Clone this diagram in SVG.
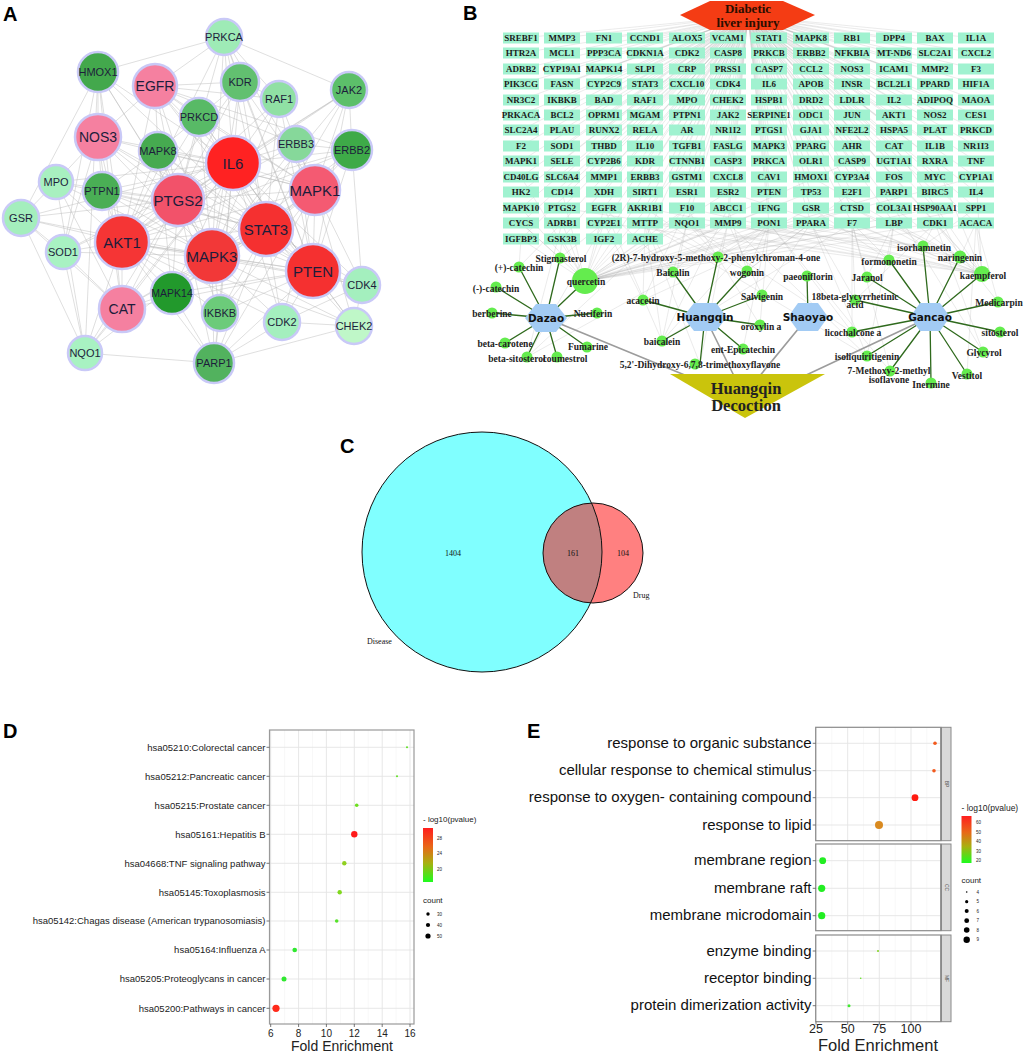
<svg xmlns="http://www.w3.org/2000/svg" width="1024" height="1054" viewBox="0 0 1024 1054">
<style>
.pl{font-family:"Liberation Sans",Arial,sans-serif;font-weight:bold;font-size:20px;fill:#000}
.ae{fill:none;stroke:#b8b8b8;stroke-width:.6;stroke-opacity:.75}
.an{stroke:#c9c9f7;stroke-width:2.5}
.at{font-family:"Liberation Sans",Arial,sans-serif;fill:#1d1d3b;text-anchor:middle}
.t15{font-size:15px}.t14{font-size:14px}.t11{font-size:11px}.t10{font-size:10.5px}
.gb{fill:#a0f2d0}
.gt{font-family:"Liberation Serif",serif;font-weight:bold;font-size:9px;fill:#1a1a1a;text-anchor:middle}
.gl{fill:none;stroke:#b0b0b0;stroke-width:.5;stroke-opacity:.5}
.ge{fill:none;stroke:#2f6a1d;stroke-width:1.3}
.hd{fill:none;stroke:#9c9c9c;stroke-width:1.6}
.hx{fill:#a2cbf4}
.ht{font-family:"DejaVu Sans",sans-serif;font-weight:bold;font-size:10.5px;fill:#111;text-anchor:middle}
.cn{fill:#64ec4e}
.cl{font-family:"Liberation Serif",serif;font-weight:bold;font-size:9.5px;fill:#222;text-anchor:middle}
.vt{font-family:"Liberation Serif",serif;font-size:8px;fill:#111}
.dl{font-family:"Liberation Sans",Arial,sans-serif;font-size:9.5px;fill:#222;text-anchor:end}
.el{font-family:"Liberation Sans",Arial,sans-serif;font-size:15px;fill:#111;text-anchor:end}
.gmj{stroke:#e4e4e4;stroke-width:.9;fill:none}
.gmn{stroke:#f1f1f1;stroke-width:.5;fill:none}
.tk{stroke:#555;stroke-width:.8;fill:none}
.lg{font-family:"Liberation Sans",Arial,sans-serif;fill:#222}
</style>
<defs>
<linearGradient id="gD" x1="0" y1="0" x2="0" y2="1">
<stop offset="0" stop-color="#ff1e1e"/><stop offset=".35" stop-color="#e86818"/><stop offset=".65" stop-color="#a8b010"/><stop offset="1" stop-color="#1efc1e"/>
</linearGradient>
<clipPath id="cSmall"><circle cx="593" cy="553" r="50"/></clipPath>
</defs>
<rect width="1024" height="1054" fill="#fff"/>

<!-- ============ Panel A ============ -->
<text class="pl" x="3" y="21">A</text>
<g id="a-edges">
<path class="ae" d="M233 163L224 37M233 163L98 72M233 163L155 86M233 163L240 82M233 163L279 99M233 163L349 90M233 163L199 117M233 163L98 137M233 163L158 151M233 163L296 144M233 163L352 150M233 163L56 182M233 163L102 191M233 163L178 200M233 163L315 190M233 163L21 218M233 163L122 242M233 163L63 252M233 163L266 229M233 163L212 256M233 163L313 271M233 163L362 285M233 163L172 293M233 163L122 309M233 163L220 313M233 163L282 322M233 163L354 326M233 163L85 353M233 163L214 363"/>
<path class="ae" d="M122 242L224 37M122 242L98 72M122 242L155 86M122 242L240 82M122 242L279 99M122 242L349 90M122 242L199 117M122 242L98 137M122 242L158 151M122 242L296 144M122 242L352 150M122 242L56 182M122 242L102 191M122 242L178 200M122 242L315 190M122 242L21 218M122 242L63 252M122 242L266 229M122 242L212 256M122 242L313 271M122 242L362 285M122 242L172 293M122 242L122 309M122 242L220 313M122 242L282 322M122 242L354 326M122 242L85 353M122 242L214 363"/>
<path class="ae" d="M212 256L224 37M212 256L98 72M212 256L155 86M212 256L240 82M212 256L279 99M212 256L349 90M212 256L199 117M212 256L98 137M212 256L158 151M212 256L296 144M212 256L352 150M212 256L56 182M212 256L102 191M212 256L178 200M212 256L315 190M212 256L21 218M212 256L63 252M212 256L266 229M212 256L313 271M212 256L362 285M212 256L172 293M212 256L122 309M212 256L220 313M212 256L282 322M212 256L354 326M212 256L85 353M212 256L214 363"/>
<path class="ae" d="M266 229L224 37M266 229L98 72M266 229L155 86M266 229L240 82M266 229L279 99M266 229L349 90M266 229L199 117M266 229L98 137M266 229L158 151M266 229L296 144M266 229L352 150M266 229L102 191M266 229L178 200M266 229L315 190M266 229L313 271M266 229L362 285M266 229L172 293M266 229L122 309M266 229L220 313M266 229L282 322M266 229L354 326M266 229L214 363M266 229L56 182"/>
<path class="ae" d="M313 271L224 37M313 271L155 86M313 271L240 82M313 271L279 99M313 271L349 90M313 271L199 117M313 271L98 137M313 271L158 151M313 271L296 144M313 271L352 150M313 271L102 191M313 271L178 200M313 271L315 190M313 271L362 285M313 271L172 293M313 271L220 313M313 271L282 322M313 271L354 326M313 271L214 363M313 271L122 309"/>
<path class="ae" d="M178 200L98 72M178 200L155 86M178 200L240 82M178 200L199 117M178 200L98 137M178 200L158 151M178 200L56 182M178 200L102 191M178 200L315 190M178 200L21 218M178 200L63 252M178 200L172 293M178 200L122 309M178 200L220 313M178 200L85 353M178 200L214 363M178 200L352 150M178 200L349 90M178 200L224 37"/>
<path class="ae" d="M315 190L224 37M315 190L155 86M315 190L240 82M315 190L279 99M315 190L349 90M315 190L199 117M315 190L158 151M315 190L296 144M315 190L352 150M315 190L172 293M315 190L220 313M315 190L282 322M315 190L354 326M315 190L362 285M315 190L214 363M315 190L98 137"/>
<path class="ae" d="M155 86L224 37M155 86L240 82M155 86L296 144M155 86L352 150M155 86L199 117M155 86L98 137M155 86L158 151M155 86L279 99M98 137L98 72M98 137L122 309M98 137L63 252M98 137L56 182M98 72L63 252M98 72L122 309M98 72L85 353M98 72L21 218M98 72L224 37M122 309L63 252M122 309L21 218M122 309L85 353M122 309L56 182M21 218L85 353M21 218L63 252M21 218L56 182M63 252L85 353M85 353L214 363M214 363L354 326M214 363L282 322M354 326L362 285M354 326L282 322M362 285L282 322M362 285L352 150M349 90L352 150M349 90L224 37M296 144L352 150M240 82L224 37M279 99L240 82M279 99L224 37M172 293L122 309M172 293L214 363M172 293L158 151M220 313L214 363M56 182L85 353M199 117L240 82M199 117L158 151M102 191L98 137M102 191L158 151"/>
</g>
<g id="a-PRKCA"><circle class="an" cx="224" cy="37" r="18" fill="#9eebb6"/><text class="at t11" x="224" y="41">PRKCA</text></g>
<g id="a-HMOX1"><circle class="an" cx="98" cy="72" r="20" fill="#43a84c"/><text class="at t11" x="98" y="76">HMOX1</text></g>
<g id="a-EGFR"><circle class="an" cx="155" cy="86" r="22" fill="#f580a0"/><text class="at t14" x="155" y="91">EGFR</text></g>
<g id="a-KDR"><circle class="an" cx="240" cy="82" r="19" fill="#62c070"/><text class="at t11" x="240" y="86">KDR</text></g>
<g id="a-RAF1"><circle class="an" cx="279" cy="99" r="18" fill="#90e0a4"/><text class="at t11" x="279" y="103">RAF1</text></g>
<g id="a-JAK2"><circle class="an" cx="349" cy="90" r="18" fill="#5cbf6a"/><text class="at t11" x="349" y="94">JAK2</text></g>
<g id="a-PRKCD"><circle class="an" cx="199" cy="117" r="19" fill="#58ba66"/><text class="at t11" x="199" y="121">PRKCD</text></g>
<g id="a-NOS3"><circle class="an" cx="98" cy="137" r="23" fill="#f580a0"/><text class="at t14" x="98" y="142">NOS3</text></g>
<g id="a-MAPK8"><circle class="an" cx="158" cy="151" r="19" fill="#46aa50"/><text class="at t11" x="158" y="155">MAPK8</text></g>
<g id="a-ERBB3"><circle class="an" cx="296" cy="144" r="18" fill="#86d89a"/><text class="at t11" x="296" y="148">ERBB3</text></g>
<g id="a-ERBB2"><circle class="an" cx="352" cy="150" r="20" fill="#3eaa48"/><text class="at t11" x="352" y="154">ERBB2</text></g>
<g id="a-IL6"><circle class="an" cx="233" cy="163" r="27" fill="#ff2222"/><text class="at t15" x="233" y="168.5">IL6</text></g>
<g id="a-MPO"><circle class="an" cx="56" cy="182" r="17" fill="#a8f0c0"/><text class="at t11" x="56" y="186">MPO</text></g>
<g id="a-PTPN1"><circle class="an" cx="102" cy="191" r="19" fill="#4aae55"/><text class="at t11" x="102" y="195">PTPN1</text></g>
<g id="a-PTGS2"><circle class="an" cx="178" cy="200" r="26" fill="#f2526a"/><text class="at t15" x="178" y="205.5">PTGS2</text></g>
<g id="a-MAPK1"><circle class="an" cx="315" cy="190" r="25" fill="#f45a72"/><text class="at t15" x="315" y="195.5">MAPK1</text></g>
<g id="a-GSR"><circle class="an" cx="21" cy="218" r="18" fill="#a4eebd"/><text class="at t11" x="21" y="222">GSR</text></g>
<g id="a-AKT1"><circle class="an" cx="122" cy="242" r="27" fill="#f53535"/><text class="at t15" x="122" y="247.5">AKT1</text></g>
<g id="a-SOD1"><circle class="an" cx="63" cy="252" r="17" fill="#a8f2c2"/><text class="at t11" x="63" y="256">SOD1</text></g>
<g id="a-STAT3"><circle class="an" cx="266" cy="229" r="27" fill="#f53030"/><text class="at t15" x="266" y="234.5">STAT3</text></g>
<g id="a-MAPK3"><circle class="an" cx="212" cy="256" r="27" fill="#f23838"/><text class="at t15" x="212" y="261.5">MAPK3</text></g>
<g id="a-PTEN"><circle class="an" cx="313" cy="271" r="27" fill="#f53030"/><text class="at t15" x="313" y="276.5">PTEN</text></g>
<g id="a-CDK4"><circle class="an" cx="362" cy="285" r="18" fill="#a4efbe"/><text class="at t11" x="362" y="289">CDK4</text></g>
<g id="a-MAPK14"><circle class="an" cx="172" cy="293" r="21" fill="#22992c"/><text class="at t10" x="172" y="297">MAPK14</text></g>
<g id="a-CAT"><circle class="an" cx="122" cy="309" r="23" fill="#f580a0"/><text class="at t14" x="122" y="314">CAT</text></g>
<g id="a-IKBKB"><circle class="an" cx="220" cy="313" r="18" fill="#6ccb7a"/><text class="at t11" x="220" y="317">IKBKB</text></g>
<g id="a-CDK2"><circle class="an" cx="282" cy="322" r="18" fill="#a4efbe"/><text class="at t11" x="282" y="326">CDK2</text></g>
<g id="a-CHEK2"><circle class="an" cx="354" cy="326" r="18" fill="#bff7c8"/><text class="at t11" x="354" y="330">CHEK2</text></g>
<g id="a-NQO1"><circle class="an" cx="85" cy="353" r="17" fill="#a8f2c2"/><text class="at t11" x="85" y="357">NQO1</text></g>
<g id="a-PARP1"><circle class="an" cx="214" cy="363" r="20" fill="#52b25e"/><text class="at t11" x="214" y="367">PARP1</text></g>

<!-- ============ Panel B ============ -->
<text class="pl" x="463" y="20">B</text>
<g id="b-connectors">
<path class="gl" d="M521 38L748 16M562 38L748 16M604 38L748 16M645 38L748 16M687 38L748 16M728 38L748 16M769 38L748 16M811 38L748 16M852 38L748 16M894 38L748 16M935 38L748 16M976 38L748 16"/>
<path class="gl" d="M521 53L748 16M562 53L748 16M604 53L748 16M645 53L748 16M687 53L748 16M728 53L748 16M769 53L748 16M811 53L748 16M852 53L748 16M894 53L748 16M935 53L748 16M976 53L748 16"/>
<path class="gl" d="M521 69L748 16M562 69L748 16M604 69L748 16M645 69L748 16M687 69L748 16M728 69L748 16M769 69L748 16M811 69L748 16M852 69L748 16M894 69L748 16M935 69L748 16M976 69L748 16"/>
<path class="gl" d="M521 84L748 16M562 84L748 16M604 84L748 16M645 84L748 16M687 84L748 16M728 84L748 16M769 84L748 16M811 84L748 16M852 84L748 16M894 84L748 16M935 84L748 16M976 84L748 16"/>
<path class="gl" d="M521 100L748 16M562 100L748 16M604 100L748 16M645 100L748 16M687 100L748 16M728 100L748 16M769 100L748 16M811 100L748 16M852 100L748 16M894 100L748 16M935 100L748 16M976 100L748 16"/>
<path class="gl" d="M521 115L748 16M562 115L748 16M604 115L748 16M645 115L748 16M687 115L748 16M728 115L748 16M769 115L748 16M811 115L748 16M852 115L748 16M894 115L748 16M935 115L748 16M976 115L748 16"/>
<path class="gl" d="M521 130L748 16M562 130L748 16M604 130L748 16M645 130L748 16M687 130L748 16M728 130L748 16M769 130L748 16M811 130L748 16M852 130L748 16M894 130L748 16M935 130L748 16M976 130L748 16"/>
<path class="gl" d="M521 146L748 16M562 146L748 16M604 146L748 16M645 146L748 16M687 146L748 16M728 146L748 16M769 146L748 16M811 146L748 16M852 146L748 16M894 146L748 16M935 146L748 16M976 146L748 16"/>
<path class="gl" d="M521 161L748 16M562 161L748 16M604 161L748 16M645 161L748 16M687 161L748 16M728 161L748 16M769 161L748 16M811 161L748 16M852 161L748 16M894 161L748 16M935 161L748 16M976 161L748 16"/>
<path class="gl" d="M521 177L748 16M562 177L748 16M604 177L748 16M645 177L748 16M687 177L748 16M728 177L748 16M769 177L748 16M811 177L748 16M852 177L748 16M894 177L748 16M935 177L748 16M976 177L748 16"/>
<path class="gl" d="M521 192L748 16M562 192L748 16M604 192L748 16M645 192L748 16M687 192L748 16M728 192L748 16M769 192L748 16M811 192L748 16M852 192L748 16M894 192L748 16M935 192L748 16M976 192L748 16"/>
<path class="gl" d="M521 208L748 16M562 208L748 16M604 208L748 16M645 208L748 16M687 208L748 16M728 208L748 16M769 208L748 16M811 208L748 16M852 208L748 16M894 208L748 16M935 208L748 16M976 208L748 16"/>
<path class="gl" d="M521 223L748 16M562 223L748 16M604 223L748 16M645 223L748 16M687 223L748 16M728 223L748 16M769 223L748 16M811 223L748 16M852 223L748 16M894 223L748 16M935 223L748 16M976 223L748 16"/>
<path class="gl" d="M521 239L748 16M562 239L748 16M604 239L748 16M645 239L748 16"/>
<path class="gl" d="M585 281L521 239M585 281L562 239M585 281L604 239M585 281L645 239M585 281L521 223M585 281L562 223M585 281L604 223M585 281L645 223M585 281L687 223M585 281L728 223M585 281L769 223M585 281L811 223M585 281L852 223M585 281L894 223M585 281L935 223M585 281L976 223M585 281L521 208M585 281L604 208M585 281L687 208M585 281L769 208M585 281L852 208M585 281L935 208M585 281L976 208M585 281L562 192M585 281L645 192M585 281L728 192M585 281L811 192M585 281L894 192M585 281L976 177M585 281L852 161M585 281L521 177M585 281L687 161"/>
<path class="gl" d="M982 274L976 223M982 274L935 223M982 274L894 208M982 274L852 223M982 274L811 208M982 274L769 223M982 274L728 192M982 274L687 208M982 274L976 177M982 274L935 161M982 274L894 146M982 274L852 130M982 274L811 177M982 274L645 208M982 274L604 223M982 274L562 208"/>
<path class="gl" d="M960 257L976 223M960 257L935 208M960 257L894 223M960 257L852 208M960 257L811 223M960 257L728 223M923 246L935 223M923 246L894 223M923 246L852 208M923 246L769 223M923 246L687 223M923 246L976 208M889 260L894 223M889 260L852 223M889 260L811 208M889 260L728 223M889 260L645 223M718 257L728 223M718 257L769 223M718 257L687 223M718 257L645 208M718 257L811 208M747 271L769 223M747 271L728 208M747 271L811 223M747 271L852 192M747 271L687 223M747 271L645 223M673 272L687 223M673 272L645 223M673 272L604 208M673 272L728 223M560 258L562 239M560 258L604 223M560 258L521 223M519 267L521 239M519 267L562 223M662 341L687 223M662 341L645 223M662 341L769 223M662 341L604 208M662 341L728 208M662 341L852 223M643 300L645 223M643 300L604 223M643 300L687 208M643 300L811 223M527 357L562 223M527 357L604 223M527 357L687 208M527 357L769 223M867 277L852 223M867 277L894 223M855 300L811 223M855 300L852 223M855 300L935 223M852 332L769 223M852 332L852 223M852 332L687 223M867 356L811 223M867 356L894 223M867 356L728 223M867 356L645 223M998 302L976 223M998 302L935 223M890 371L852 223M890 371L769 223M983 352L935 223M983 352L894 208M967 374L976 223M760 325L769 223M760 325L687 208M762 295L811 223M762 295L728 223M700 364L728 223M700 364L645 223M743 349L769 223"/>
<path class="hd" d="M546 318L692 378M705 317L737 382M808 317L758 378M930 317L802 377"/>
<path class="ge" d="M546 318L560 258M546 318L519 267M546 318L496 287M546 318L585 281M546 318L492 313M546 318L597 313M546 318L505 343M546 318L587 347M546 318L527 357M546 318L557 357"/>
<path class="ge" d="M705 317L673 272M705 317L718 257M705 317L747 271M705 317L643 300M705 317L762 295M705 317L760 325M705 317L662 341M705 317L743 349M705 317L700 364"/>
<path class="ge" d="M808 317L807 276"/>
<path class="ge" d="M930 317L923 246M930 317L889 260M930 317L960 257M930 317L982 274M930 317L867 277M930 317L998 302M930 317L855 300M930 317L1000 332M930 317L852 332M930 317L983 352M930 317L867 356M930 317L890 371M930 317L967 374M930 317L931 383"/>
</g>

<g id="b-targets">
<g id="t-row0"><rect class="gb" x="503" y="32.5" width="36" height="11"/><rect class="gb" x="544" y="32.5" width="36" height="11"/><rect class="gb" x="586" y="32.5" width="36" height="11"/><rect class="gb" x="627" y="32.5" width="36" height="11"/><rect class="gb" x="669" y="32.5" width="36" height="11"/><rect class="gb" x="710" y="32.5" width="36" height="11"/><rect class="gb" x="751" y="32.5" width="36" height="11"/><rect class="gb" x="793" y="32.5" width="36" height="11"/><rect class="gb" x="834" y="32.5" width="36" height="11"/><rect class="gb" x="876" y="32.5" width="36" height="11"/><rect class="gb" x="917" y="32.5" width="36" height="11"/><rect class="gb" x="958" y="32.5" width="36" height="11"/>
<text class="gt" y="41.2"><tspan x="521">SREBF1</tspan><tspan x="562">MMP3</tspan><tspan x="604">FN1</tspan><tspan x="645">CCND1</tspan><tspan x="687">ALOX5</tspan><tspan x="728">VCAM1</tspan><tspan x="769">STAT1</tspan><tspan x="811">MAPK8</tspan><tspan x="852">RB1</tspan><tspan x="894">DPP4</tspan><tspan x="935">BAX</tspan><tspan x="976">IL1A</tspan></text></g>
<g id="t-row1"><rect class="gb" x="503" y="47.5" width="36" height="11"/><rect class="gb" x="544" y="47.5" width="36" height="11"/><rect class="gb" x="586" y="47.5" width="36" height="11"/><rect class="gb" x="627" y="47.5" width="36" height="11"/><rect class="gb" x="669" y="47.5" width="36" height="11"/><rect class="gb" x="710" y="47.5" width="36" height="11"/><rect class="gb" x="751" y="47.5" width="36" height="11"/><rect class="gb" x="793" y="47.5" width="36" height="11"/><rect class="gb" x="834" y="47.5" width="36" height="11"/><rect class="gb" x="876" y="47.5" width="36" height="11"/><rect class="gb" x="917" y="47.5" width="36" height="11"/><rect class="gb" x="958" y="47.5" width="36" height="11"/>
<text class="gt" y="56.2"><tspan x="521">HTR2A</tspan><tspan x="562">MCL1</tspan><tspan x="604">PPP3CA</tspan><tspan x="645">CDKN1A</tspan><tspan x="687">CDK2</tspan><tspan x="728">CASP8</tspan><tspan x="769">PRKCB</tspan><tspan x="811">ERBB2</tspan><tspan x="852">NFKBIA</tspan><tspan x="894">MT-ND6</tspan><tspan x="935">SLC2A1</tspan><tspan x="976">CXCL2</tspan></text></g>
<g id="t-row2"><rect class="gb" x="503" y="63.5" width="36" height="11"/><rect class="gb" x="544" y="63.5" width="36" height="11"/><rect class="gb" x="586" y="63.5" width="36" height="11"/><rect class="gb" x="627" y="63.5" width="36" height="11"/><rect class="gb" x="669" y="63.5" width="36" height="11"/><rect class="gb" x="710" y="63.5" width="36" height="11"/><rect class="gb" x="751" y="63.5" width="36" height="11"/><rect class="gb" x="793" y="63.5" width="36" height="11"/><rect class="gb" x="834" y="63.5" width="36" height="11"/><rect class="gb" x="876" y="63.5" width="36" height="11"/><rect class="gb" x="917" y="63.5" width="36" height="11"/><rect class="gb" x="958" y="63.5" width="36" height="11"/>
<text class="gt" y="72.2"><tspan x="521">ADRB2</tspan><tspan x="562">CYP19A1</tspan><tspan x="604">MAPK14</tspan><tspan x="645">SLPI</tspan><tspan x="687">CRP</tspan><tspan x="728">PRSS1</tspan><tspan x="769">CASP7</tspan><tspan x="811">CCL2</tspan><tspan x="852">NOS3</tspan><tspan x="894">ICAM1</tspan><tspan x="935">MMP2</tspan><tspan x="976">F3</tspan></text></g>
<g id="t-row3"><rect class="gb" x="503" y="78.5" width="36" height="11"/><rect class="gb" x="544" y="78.5" width="36" height="11"/><rect class="gb" x="586" y="78.5" width="36" height="11"/><rect class="gb" x="627" y="78.5" width="36" height="11"/><rect class="gb" x="669" y="78.5" width="36" height="11"/><rect class="gb" x="710" y="78.5" width="36" height="11"/><rect class="gb" x="751" y="78.5" width="36" height="11"/><rect class="gb" x="793" y="78.5" width="36" height="11"/><rect class="gb" x="834" y="78.5" width="36" height="11"/><rect class="gb" x="876" y="78.5" width="36" height="11"/><rect class="gb" x="917" y="78.5" width="36" height="11"/><rect class="gb" x="958" y="78.5" width="36" height="11"/>
<text class="gt" y="87.2"><tspan x="521">PIK3CG</tspan><tspan x="562">FASN</tspan><tspan x="604">CYP2C9</tspan><tspan x="645">STAT3</tspan><tspan x="687">CXCL10</tspan><tspan x="728">CDK4</tspan><tspan x="769">IL6</tspan><tspan x="811">APOB</tspan><tspan x="852">INSR</tspan><tspan x="894">BCL2L1</tspan><tspan x="935">PPARD</tspan><tspan x="976">HIF1A</tspan></text></g>
<g id="t-row4"><rect class="gb" x="503" y="94.5" width="36" height="11"/><rect class="gb" x="544" y="94.5" width="36" height="11"/><rect class="gb" x="586" y="94.5" width="36" height="11"/><rect class="gb" x="627" y="94.5" width="36" height="11"/><rect class="gb" x="669" y="94.5" width="36" height="11"/><rect class="gb" x="710" y="94.5" width="36" height="11"/><rect class="gb" x="751" y="94.5" width="36" height="11"/><rect class="gb" x="793" y="94.5" width="36" height="11"/><rect class="gb" x="834" y="94.5" width="36" height="11"/><rect class="gb" x="876" y="94.5" width="36" height="11"/><rect class="gb" x="917" y="94.5" width="36" height="11"/><rect class="gb" x="958" y="94.5" width="36" height="11"/>
<text class="gt" y="103.2"><tspan x="521">NR3C2</tspan><tspan x="562">IKBKB</tspan><tspan x="604">BAD</tspan><tspan x="645">RAF1</tspan><tspan x="687">MPO</tspan><tspan x="728">CHEK2</tspan><tspan x="769">HSPB1</tspan><tspan x="811">DRD2</tspan><tspan x="852">LDLR</tspan><tspan x="894">IL2</tspan><tspan x="935">ADIPOQ</tspan><tspan x="976">MAOA</tspan></text></g>
<g id="t-row5"><rect class="gb" x="503" y="109.5" width="36" height="11"/><rect class="gb" x="544" y="109.5" width="36" height="11"/><rect class="gb" x="586" y="109.5" width="36" height="11"/><rect class="gb" x="627" y="109.5" width="36" height="11"/><rect class="gb" x="669" y="109.5" width="36" height="11"/><rect class="gb" x="710" y="109.5" width="36" height="11"/><rect class="gb" x="751" y="109.5" width="36" height="11"/><rect class="gb" x="793" y="109.5" width="36" height="11"/><rect class="gb" x="834" y="109.5" width="36" height="11"/><rect class="gb" x="876" y="109.5" width="36" height="11"/><rect class="gb" x="917" y="109.5" width="36" height="11"/><rect class="gb" x="958" y="109.5" width="36" height="11"/>
<text class="gt" y="118.2"><tspan x="521">PRKACA</tspan><tspan x="562">BCL2</tspan><tspan x="604">OPRM1</tspan><tspan x="645">MGAM</tspan><tspan x="687">PTPN1</tspan><tspan x="728">JAK2</tspan><tspan x="769">SERPINE1</tspan><tspan x="811">ODC1</tspan><tspan x="852">JUN</tspan><tspan x="894">AKT1</tspan><tspan x="935">NOS2</tspan><tspan x="976">CES1</tspan></text></g>
<g id="t-row6"><rect class="gb" x="503" y="124.5" width="36" height="11"/><rect class="gb" x="544" y="124.5" width="36" height="11"/><rect class="gb" x="586" y="124.5" width="36" height="11"/><rect class="gb" x="627" y="124.5" width="36" height="11"/><rect class="gb" x="669" y="124.5" width="36" height="11"/><rect class="gb" x="710" y="124.5" width="36" height="11"/><rect class="gb" x="751" y="124.5" width="36" height="11"/><rect class="gb" x="793" y="124.5" width="36" height="11"/><rect class="gb" x="834" y="124.5" width="36" height="11"/><rect class="gb" x="876" y="124.5" width="36" height="11"/><rect class="gb" x="917" y="124.5" width="36" height="11"/><rect class="gb" x="958" y="124.5" width="36" height="11"/>
<text class="gt" y="133.2"><tspan x="521">SLC2A4</tspan><tspan x="562">PLAU</tspan><tspan x="604">RUNX2</tspan><tspan x="645">RELA</tspan><tspan x="687">AR</tspan><tspan x="728">NR1I2</tspan><tspan x="769">PTGS1</tspan><tspan x="811">GJA1</tspan><tspan x="852">NFE2L2</tspan><tspan x="894">HSPA5</tspan><tspan x="935">PLAT</tspan><tspan x="976">PRKCD</tspan></text></g>
<g id="t-row7"><rect class="gb" x="503" y="140.5" width="36" height="11"/><rect class="gb" x="544" y="140.5" width="36" height="11"/><rect class="gb" x="586" y="140.5" width="36" height="11"/><rect class="gb" x="627" y="140.5" width="36" height="11"/><rect class="gb" x="669" y="140.5" width="36" height="11"/><rect class="gb" x="710" y="140.5" width="36" height="11"/><rect class="gb" x="751" y="140.5" width="36" height="11"/><rect class="gb" x="793" y="140.5" width="36" height="11"/><rect class="gb" x="834" y="140.5" width="36" height="11"/><rect class="gb" x="876" y="140.5" width="36" height="11"/><rect class="gb" x="917" y="140.5" width="36" height="11"/><rect class="gb" x="958" y="140.5" width="36" height="11"/>
<text class="gt" y="149.2"><tspan x="521">F2</tspan><tspan x="562">SOD1</tspan><tspan x="604">THBD</tspan><tspan x="645">IL10</tspan><tspan x="687">TGFB1</tspan><tspan x="728">FASLG</tspan><tspan x="769">MAPK3</tspan><tspan x="811">PPARG</tspan><tspan x="852">AHR</tspan><tspan x="894">CAT</tspan><tspan x="935">IL1B</tspan><tspan x="976">NR1I3</tspan></text></g>
<g id="t-row8"><rect class="gb" x="503" y="155.5" width="36" height="11"/><rect class="gb" x="544" y="155.5" width="36" height="11"/><rect class="gb" x="586" y="155.5" width="36" height="11"/><rect class="gb" x="627" y="155.5" width="36" height="11"/><rect class="gb" x="669" y="155.5" width="36" height="11"/><rect class="gb" x="710" y="155.5" width="36" height="11"/><rect class="gb" x="751" y="155.5" width="36" height="11"/><rect class="gb" x="793" y="155.5" width="36" height="11"/><rect class="gb" x="834" y="155.5" width="36" height="11"/><rect class="gb" x="876" y="155.5" width="36" height="11"/><rect class="gb" x="917" y="155.5" width="36" height="11"/><rect class="gb" x="958" y="155.5" width="36" height="11"/>
<text class="gt" y="164.2"><tspan x="521">MAPK1</tspan><tspan x="562">SELE</tspan><tspan x="604">CYP2B6</tspan><tspan x="645">KDR</tspan><tspan x="687">CTNNB1</tspan><tspan x="728">CASP3</tspan><tspan x="769">PRKCA</tspan><tspan x="811">OLR1</tspan><tspan x="852">CASP9</tspan><tspan x="894">UGT1A1</tspan><tspan x="935">RXRA</tspan><tspan x="976">TNF</tspan></text></g>
<g id="t-row9"><rect class="gb" x="503" y="171.5" width="36" height="11"/><rect class="gb" x="544" y="171.5" width="36" height="11"/><rect class="gb" x="586" y="171.5" width="36" height="11"/><rect class="gb" x="627" y="171.5" width="36" height="11"/><rect class="gb" x="669" y="171.5" width="36" height="11"/><rect class="gb" x="710" y="171.5" width="36" height="11"/><rect class="gb" x="751" y="171.5" width="36" height="11"/><rect class="gb" x="793" y="171.5" width="36" height="11"/><rect class="gb" x="834" y="171.5" width="36" height="11"/><rect class="gb" x="876" y="171.5" width="36" height="11"/><rect class="gb" x="917" y="171.5" width="36" height="11"/><rect class="gb" x="958" y="171.5" width="36" height="11"/>
<text class="gt" y="180.2"><tspan x="521">CD40LG</tspan><tspan x="562">SLC6A4</tspan><tspan x="604">MMP1</tspan><tspan x="645">ERBB3</tspan><tspan x="687">GSTM1</tspan><tspan x="728">CXCL8</tspan><tspan x="769">CAV1</tspan><tspan x="811">HMOX1</tspan><tspan x="852">CYP3A4</tspan><tspan x="894">FOS</tspan><tspan x="935">MYC</tspan><tspan x="976">CYP1A1</tspan></text></g>
<g id="t-row10"><rect class="gb" x="503" y="186.5" width="36" height="11"/><rect class="gb" x="544" y="186.5" width="36" height="11"/><rect class="gb" x="586" y="186.5" width="36" height="11"/><rect class="gb" x="627" y="186.5" width="36" height="11"/><rect class="gb" x="669" y="186.5" width="36" height="11"/><rect class="gb" x="710" y="186.5" width="36" height="11"/><rect class="gb" x="751" y="186.5" width="36" height="11"/><rect class="gb" x="793" y="186.5" width="36" height="11"/><rect class="gb" x="834" y="186.5" width="36" height="11"/><rect class="gb" x="876" y="186.5" width="36" height="11"/><rect class="gb" x="917" y="186.5" width="36" height="11"/><rect class="gb" x="958" y="186.5" width="36" height="11"/>
<text class="gt" y="195.2"><tspan x="521">HK2</tspan><tspan x="562">CD14</tspan><tspan x="604">XDH</tspan><tspan x="645">SIRT1</tspan><tspan x="687">ESR1</tspan><tspan x="728">ESR2</tspan><tspan x="769">PTEN</tspan><tspan x="811">TP53</tspan><tspan x="852">E2F1</tspan><tspan x="894">PARP1</tspan><tspan x="935">BIRC5</tspan><tspan x="976">IL4</tspan></text></g>
<g id="t-row11"><rect class="gb" x="503" y="202.5" width="36" height="11"/><rect class="gb" x="544" y="202.5" width="36" height="11"/><rect class="gb" x="586" y="202.5" width="36" height="11"/><rect class="gb" x="627" y="202.5" width="36" height="11"/><rect class="gb" x="669" y="202.5" width="36" height="11"/><rect class="gb" x="710" y="202.5" width="36" height="11"/><rect class="gb" x="751" y="202.5" width="36" height="11"/><rect class="gb" x="793" y="202.5" width="36" height="11"/><rect class="gb" x="834" y="202.5" width="36" height="11"/><rect class="gb" x="876" y="202.5" width="36" height="11"/><rect class="gb" x="917" y="202.5" width="36" height="11"/><rect class="gb" x="958" y="202.5" width="36" height="11"/>
<text class="gt" y="211.2"><tspan x="521">MAPK10</tspan><tspan x="562">PTGS2</tspan><tspan x="604">EGFR</tspan><tspan x="645">AKR1B1</tspan><tspan x="687">F10</tspan><tspan x="728">ABCC1</tspan><tspan x="769">IFNG</tspan><tspan x="811">GSR</tspan><tspan x="852">CTSD</tspan><tspan x="894">COL3A1</tspan><tspan x="935">HSP90AA1</tspan><tspan x="976">SPP1</tspan></text></g>
<g id="t-row12"><rect class="gb" x="503" y="217.5" width="36" height="11"/><rect class="gb" x="544" y="217.5" width="36" height="11"/><rect class="gb" x="586" y="217.5" width="36" height="11"/><rect class="gb" x="627" y="217.5" width="36" height="11"/><rect class="gb" x="669" y="217.5" width="36" height="11"/><rect class="gb" x="710" y="217.5" width="36" height="11"/><rect class="gb" x="751" y="217.5" width="36" height="11"/><rect class="gb" x="793" y="217.5" width="36" height="11"/><rect class="gb" x="834" y="217.5" width="36" height="11"/><rect class="gb" x="876" y="217.5" width="36" height="11"/><rect class="gb" x="917" y="217.5" width="36" height="11"/><rect class="gb" x="958" y="217.5" width="36" height="11"/>
<text class="gt" y="226.2"><tspan x="521">CYCS</tspan><tspan x="562">ADRB1</tspan><tspan x="604">CYP2E1</tspan><tspan x="645">MTTP</tspan><tspan x="687">NQO1</tspan><tspan x="728">MMP9</tspan><tspan x="769">PON1</tspan><tspan x="811">PPARA</tspan><tspan x="852">F7</tspan><tspan x="894">LBP</tspan><tspan x="935">CDK1</tspan><tspan x="976">ACACA</tspan></text></g>
<g id="t-row13"><rect class="gb" x="503" y="233.5" width="36" height="11"/><rect class="gb" x="544" y="233.5" width="36" height="11"/><rect class="gb" x="586" y="233.5" width="36" height="11"/><rect class="gb" x="627" y="233.5" width="36" height="11"/>
<text class="gt" y="242.2"><tspan x="521">IGFBP3</tspan><tspan x="562">GSK3B</tspan><tspan x="604">IGF2</tspan><tspan x="645">ACHE</tspan></text></g>
</g>

<g id="b-disease"><polygon points="680,15 710,1 783,1 815,15 783,30 710,30" fill="#f43c14"/>
<text x="748" y="12.5" style="font-family:'Liberation Serif',serif;font-weight:bold;font-size:13px;fill:#2b0e00;text-anchor:middle">Diabetic</text>
<text x="748" y="26.5" style="font-family:'Liberation Serif',serif;font-weight:bold;font-size:13px;fill:#2b0e00;text-anchor:middle">liver injury</text></g>

<g id="b-decoction"><polygon points="670,374 825,374 745,418" fill="#cac40c"/>
<text x="746" y="394" style="font-family:'Liberation Serif',serif;font-weight:bold;font-size:16.5px;fill:#222;text-anchor:middle">Huangqin</text>
<text x="746" y="411" style="font-family:'Liberation Serif',serif;font-weight:bold;font-size:16.5px;fill:#222;text-anchor:middle">Decoction</text></g>

<g id="h-Dazao"><polygon class="hx" points="525,318 536,304 556,304 567,318 556,332 536,332"/><text class="ht" x="546" y="322">Dazao</text></g>
<g id="h-Huangqin"><polygon class="hx" points="683,317 694,303 716,303 727,317 716,331 694,331"/><text class="ht" x="705" y="321">Huangqin</text></g>
<g id="h-Shaoyao"><polygon class="hx" points="788,317 798,303 818,303 828,317 818,331 798,331"/><text class="ht" x="808" y="321">Shaoyao</text></g>
<g id="h-Gancao"><polygon class="hx" points="910,317 920,303 940,303 950,317 940,331 920,331"/><text class="ht" x="930" y="321">Gancao</text></g>

<g id="b-compounds">
<g id="c-stig"><circle class="cn" cx="560" cy="258" r="5.5"/><text class="cl" x="561" y="262">Stigmasterol</text></g>
<g id="c-pcat"><circle class="cn" cx="519" cy="267" r="5.5"/><text class="cl" x="519" y="270.5">(+)-catechin</text></g>
<g id="c-mcat"><circle class="cn" cx="496" cy="287" r="5.5"/><text class="cl" x="496" y="292">(-)-catechin</text></g>
<g id="c-quer"><circle class="cn" cx="585" cy="281" r="13"/><text class="cl" x="586" y="285">quercetin</text></g>
<g id="c-berb"><circle class="cn" cx="492" cy="313" r="5.5"/><text class="cl" x="492" y="316.5">berberine</text></g>
<g id="c-nuci"><circle class="cn" cx="597" cy="313" r="5.5"/><text class="cl" x="593" y="317">Nuciferin</text></g>
<g id="c-bcar"><circle class="cn" cx="505" cy="343" r="5.5"/><text class="cl" x="505" y="346.5">beta-carotene</text></g>
<g id="c-fuma"><circle class="cn" cx="587" cy="347" r="5.5"/><text class="cl" x="588" y="350">Fumarine</text></g>
<g id="c-bsit"><circle class="cn" cx="527" cy="357" r="5.5"/><text class="cl" x="517" y="362">beta-sitosterol</text></g>
<g id="c-coum"><circle class="cn" cx="557" cy="357" r="5.5"/><text class="cl" x="565" y="362">coumestrol</text></g>
<g id="c-baicalin"><circle class="cn" cx="673" cy="272" r="5.5"/><text class="cl" x="673" y="275.5">Baicalin</text></g>
<g id="c-2r"><circle class="cn" cx="718" cy="257" r="5.5"/><text class="cl" x="716" y="261">(2R)-7-hydroxy-5-methoxy-2-phenylchroman-4-one</text></g>
<g id="c-wogo"><circle class="cn" cx="747" cy="271" r="5.5"/><text class="cl" x="747" y="276">wogonin</text></g>
<g id="c-acac"><circle class="cn" cx="643" cy="300" r="5.5"/><text class="cl" x="643" y="304">acacetin</text></g>
<g id="c-salv"><circle class="cn" cx="762" cy="295" r="5.5"/><text class="cl" x="762" y="300">Salvigenin</text></g>
<g id="c-orox"><circle class="cn" cx="760" cy="325" r="5.5"/><text class="cl" x="761" y="330">oroxylin a</text></g>
<g id="c-baicalein"><circle class="cn" cx="662" cy="341" r="5.5"/><text class="cl" x="662" y="345">baicalein</text></g>
<g id="c-ente"><circle class="cn" cx="743" cy="349" r="5.5"/><text class="cl" x="743" y="352.5">ent-Epicatechin</text></g>
<g id="c-5dih"><circle class="cn" cx="695" cy="364" r="5.5"/><text class="cl" x="700" y="368">5,2'-Dihydroxy-6,7,8-trimethoxyflavone</text></g>
<g id="c-paeo"><circle class="cn" cx="807" cy="276" r="5.5"/><text class="cl" x="808" y="280">paeoniflorin</text></g>
<g id="c-isor"><circle class="cn" cx="923" cy="246" r="5.5"/><text class="cl" x="924" y="251">isorhamnetin</text></g>
<g id="c-form"><circle class="cn" cx="889" cy="260" r="5.5"/><text class="cl" x="889" y="265">formononetin</text></g>
<g id="c-nari"><circle class="cn" cx="960" cy="257" r="6.5"/><text class="cl" x="960" y="260.5">naringenin</text></g>
<g id="c-kaem"><circle class="cn" cx="982" cy="274" r="8"/><text class="cl" x="983" y="279">kaempferol</text></g>
<g id="c-jara"><circle class="cn" cx="867" cy="277" r="5.5"/><text class="cl" x="867" y="280.5">Jaranol</text></g>
<g id="c-medi"><circle class="cn" cx="998" cy="302" r="5.5"/><text class="cl" x="999" y="306">Medicarpin</text></g>
<g id="c-18b"><circle class="cn" cx="855" cy="300" r="5.5"/><text class="cl" x="855" y="299.5">18beta-glycyrrhetinic</text><text class="cl" x="855" y="308">acid</text></g>
<g id="c-sito"><circle class="cn" cx="1000" cy="332" r="5.5"/><text class="cl" x="1000" y="336">sitosterol</text></g>
<g id="c-lico"><circle class="cn" cx="852" cy="332" r="5.5"/><text class="cl" x="853" y="336">licochalcone a</text></g>
<g id="c-glyc"><circle class="cn" cx="983" cy="352" r="5.5"/><text class="cl" x="984" y="355.5">Glycyrol</text></g>
<g id="c-isol"><circle class="cn" cx="867" cy="356" r="5.5"/><text class="cl" x="867" y="360">isoliquiritigenin</text></g>
<g id="c-7me"><circle class="cn" cx="890" cy="371" r="5.5"/><text class="cl" x="889" y="374">7-Methoxy-2-methyl</text><text class="cl" x="889" y="382.5">isoflavone</text></g>
<g id="c-vest"><circle class="cn" cx="967" cy="374" r="5.5"/><text class="cl" x="967" y="378.5">Vestitol</text></g>
<g id="c-iner"><circle class="cn" cx="931" cy="383" r="5.5"/><text class="cl" x="931" y="387.5">Inermine</text></g>
</g>

<!-- ============ Panel C ============ -->
<text class="pl" x="340" y="453">C</text>
<g id="venn">
<g id="v-disease"><circle cx="482" cy="552" r="120" fill="#80ffff"/></g>
<g id="v-drug"><circle cx="593" cy="553" r="50" fill="#ff8080"/></g>
<circle cx="482" cy="552" r="120" fill="#c08080" clip-path="url(#cSmall)"/>
<circle cx="482" cy="552" r="120" fill="none" stroke="#111" stroke-width="1"/>
<circle cx="593" cy="553" r="50" fill="none" stroke="#111" stroke-width="1"/>
<text class="vt" x="453" y="556" text-anchor="middle">1404</text>
<text class="vt" x="573" y="556" text-anchor="middle">161</text>
<text class="vt" x="623" y="556" text-anchor="middle">104</text>
<text class="vt" x="633" y="598">Drug</text>
<text class="vt" x="367" y="644">Disease</text>
</g>

<!-- ============ Panel D ============ -->
<text class="pl" x="3" y="738">D</text>
<g id="plotD">
<rect x="269.5" y="730" width="144.5" height="294" fill="#fff"/>
<path class="gmn" d="M284.6 730V1024M312.5 730V1024M340.4 730V1024M368.2 730V1024M396.1 730V1024"/>
<path class="gmj" d="M270.7 730V1024M298.6 730V1024M326.4 730V1024M354.3 730V1024M382.2 730V1024M410 730V1024M269.5 747.3H414M269.5 776.3H414M269.5 805.3H414M269.5 834.3H414M269.5 863.3H414M269.5 892.3H414M269.5 921H414M269.5 950H414M269.5 979H414M269.5 1008.3H414"/>
<rect x="269.5" y="730" width="144.5" height="294" fill="none" stroke="#9a9a9a" stroke-width="1.2"/>
<path class="tk" d="M266.5 747.3h3M266.5 776.3h3M266.5 805.3h3M266.5 834.3h3M266.5 863.3h3M266.5 892.3h3M266.5 921h3M266.5 950h3M266.5 979h3M266.5 1008.3h3M270.7 1024v3M298.6 1024v3M326.4 1024v3M354.3 1024v3M382.2 1024v3M410 1024v3"/>
<text class="dl" x="265.5" y="750.7">hsa05210:Colorectal cancer</text>
<text class="dl" x="265.5" y="779.7">hsa05212:Pancreatic cancer</text>
<text class="dl" x="265.5" y="808.7">hsa05215:Prostate cancer</text>
<text class="dl" x="265.5" y="837.7">hsa05161:Hepatitis B</text>
<text class="dl" x="265.5" y="866.7">hsa04668:TNF signaling pathway</text>
<text class="dl" x="265.5" y="895.7">hsa05145:Toxoplasmosis</text>
<text class="dl" x="265.5" y="924.4">hsa05142:Chagas disease (American trypanosomiasis)</text>
<text class="dl" x="265.5" y="953.4">hsa05164:Influenza A</text>
<text class="dl" x="265.5" y="982.4">hsa05205:Proteoglycans in cancer</text>
<text class="dl" x="265.5" y="1011.7">hsa05200:Pathways in cancer</text>
<circle cx="407" cy="747.3" r="1" fill="#5ee022"/>
<circle cx="397" cy="776.3" r="1" fill="#5ee022"/>
<circle cx="356.7" cy="805.3" r="1.8" fill="#6ee020"/>
<circle cx="354.3" cy="834.3" r="3.2" fill="#ff1a1a"/>
<circle cx="344.3" cy="863.3" r="2.2" fill="#90d020"/>
<circle cx="339.7" cy="892.3" r="2.2" fill="#80d81e"/>
<circle cx="336.7" cy="921" r="1.8" fill="#55e22a"/>
<circle cx="294.7" cy="950" r="2.3" fill="#30e830"/>
<circle cx="284" cy="979" r="2.5" fill="#30e830"/>
<circle cx="276" cy="1008.3" r="3.6" fill="#ff2a1a"/>
<g class="lg" style="font-size:10px" text-anchor="middle"><text x="270.7" y="1036.5">6</text><text x="298.6" y="1036.5">8</text><text x="326.4" y="1036.5">10</text><text x="354.3" y="1036.5">12</text><text x="382.2" y="1036.5">14</text><text x="410" y="1036.5">16</text></g>
<text class="lg" x="342" y="1051" text-anchor="middle" style="font-size:14px">Fold Enrichment</text>
<text class="lg" x="423" y="822" style="font-size:8px">- log10(pvalue)</text>
<rect x="423" y="828" width="10" height="54" fill="url(#gD)"/>
<g class="lg" style="font-size:4.5px"><text x="437" y="839.5">28</text><text x="437" y="854.5">24</text><text x="437" y="870.5">20</text></g>
<text class="lg" x="423" y="903" style="font-size:8px">count</text>
<circle cx="428" cy="914" r="1.7" fill="#000"/><circle cx="428" cy="925" r="2.1" fill="#000"/><circle cx="428" cy="936" r="2.6" fill="#000"/>
<g class="lg" style="font-size:4.5px"><text x="437" y="915.5">30</text><text x="437" y="926.5">40</text><text x="437" y="937.5">50</text></g>
</g>

<!-- ============ Panel E ============ -->
<text class="pl" x="527" y="738">E</text>
<g id="plotE">
<rect x="815.7" y="727.3" width="125" height="113.4" fill="#fff"/>
<rect x="815.7" y="844" width="125" height="86.7" fill="#fff"/>
<rect x="815.7" y="935" width="125" height="86.7" fill="#fff"/>
<path class="gmn" d="M831.8 727.3V840.7M863.5 727.3V840.7M895.2 727.3V840.7M926.8 727.3V840.7M831.8 844V930.7M863.5 844V930.7M895.2 844V930.7M926.8 844V930.7M831.8 935V1021.7M863.5 935V1021.7M895.2 935V1021.7M926.8 935V1021.7"/>
<path class="gmj" d="M816 727.3V840.7M847.7 727.3V840.7M879.3 727.3V840.7M911 727.3V840.7M816 844V930.7M847.7 844V930.7M879.3 844V930.7M911 844V930.7M816 935V1021.7M847.7 935V1021.7M879.3 935V1021.7M911 935V1021.7M815.7 743.3H940.7M815.7 770.7H940.7M815.7 797.7H940.7M815.7 825H940.7M815.7 860.7H940.7M815.7 888.3H940.7M815.7 915.7H940.7M815.7 951H940.7M815.7 978.3H940.7M815.7 1005.7H940.7"/>
<g fill="none" stroke="#8a8a8a" stroke-width="1.2">
<rect x="815.7" y="727.3" width="125" height="113.4"/><rect x="815.7" y="844" width="125" height="86.7"/><rect x="815.7" y="935" width="125" height="86.7"/>
</g>
<g fill="#d9d9d9" stroke="#8a8a8a" stroke-width="1">
<rect x="941.5" y="727.3" width="9.5" height="113.4"/><rect x="941.5" y="844" width="9.5" height="86.7"/><rect x="941.5" y="935" width="9.5" height="86.7"/>
</g>
<g class="lg" style="font-size:5px;fill:#555" text-anchor="middle">
<text transform="translate(944.5 784) rotate(90)">BP</text>
<text transform="translate(944.5 887.5) rotate(90)">CC</text>
<text transform="translate(944.5 978.5) rotate(90)">MF</text>
</g>
<path class="tk" d="M812.7 743.3h3M812.7 770.7h3M812.7 797.7h3M812.7 825h3M812.7 860.7h3M812.7 888.3h3M812.7 915.7h3M812.7 951h3M812.7 978.3h3M812.7 1005.7h3M816 1021.7v3M847.7 1021.7v3M879.3 1021.7v3M911 1021.7v3"/>
<text class="el" x="811.5" y="748">response to organic substance</text>
<text class="el" x="811.5" y="775.4">cellular response to chemical stimulus</text>
<text class="el" x="811.5" y="802.4">response to oxygen- containing compound</text>
<text class="el" x="811.5" y="829.7">response to lipid</text>
<text class="el" x="811.5" y="865.4">membrane region</text>
<text class="el" x="811.5" y="893">membrane raft</text>
<text class="el" x="811.5" y="920.4">membrane microdomain</text>
<text class="el" x="811.5" y="955.7">enzyme binding</text>
<text class="el" x="811.5" y="983">receptor binding</text>
<text class="el" x="811.5" y="1010.4">protein dimerization activity</text>
<circle cx="935" cy="743.3" r="1.8" fill="#f25a1e"/>
<circle cx="934" cy="770.7" r="1.8" fill="#f25a1e"/>
<circle cx="915" cy="797.7" r="3.4" fill="#ff1a10"/>
<circle cx="879" cy="825" r="4" fill="#d98a20"/>
<circle cx="822.7" cy="860.7" r="3.4" fill="#22ee22"/>
<circle cx="821.7" cy="888.3" r="3.6" fill="#22ee22"/>
<circle cx="821.7" cy="915.7" r="3.6" fill="#22ee22"/>
<circle cx="878" cy="951" r="1" fill="#80d41e"/>
<circle cx="860.7" cy="978.3" r="0.8" fill="#60e020"/>
<circle cx="849" cy="1005.7" r="1.5" fill="#40e830"/>
<g class="lg" style="font-size:12.5px" text-anchor="middle"><text x="816" y="1033">25</text><text x="847.7" y="1033">50</text><text x="879.3" y="1033">75</text><text x="911" y="1033">100</text></g>
<text class="lg" x="878" y="1051" text-anchor="middle" style="font-size:16.5px">Fold Enrichment</text>
<text class="lg" x="961.5" y="811" style="font-size:8.5px">- log10(pvalue)</text>
<rect x="961.5" y="816" width="10" height="47" fill="url(#gD)"/>
<g class="lg" style="font-size:4.5px"><text x="976" y="824.3">60</text><text x="976" y="833.6">50</text><text x="976" y="843.3">40</text><text x="976" y="852.6">30</text><text x="976" y="861.9">20</text></g>
<text class="lg" x="961.5" y="883" style="font-size:8px">count</text>
<circle cx="966.7" cy="892" r="0.8" fill="#000"/><circle cx="966.7" cy="901.7" r="1.6" fill="#000"/><circle cx="966.7" cy="911" r="2" fill="#000"/><circle cx="966.7" cy="920.7" r="2.4" fill="#000"/><circle cx="966.7" cy="930" r="2.8" fill="#000"/><circle cx="966.7" cy="939.7" r="3.2" fill="#000"/>
<g class="lg" style="font-size:4.5px"><text x="976.5" y="893.6">4</text><text x="976.5" y="903.3">5</text><text x="976.5" y="912.6">6</text><text x="976.5" y="922.3">7</text><text x="976.5" y="931.6">8</text><text x="976.5" y="941.3">9</text></g>
</g>
</svg>
